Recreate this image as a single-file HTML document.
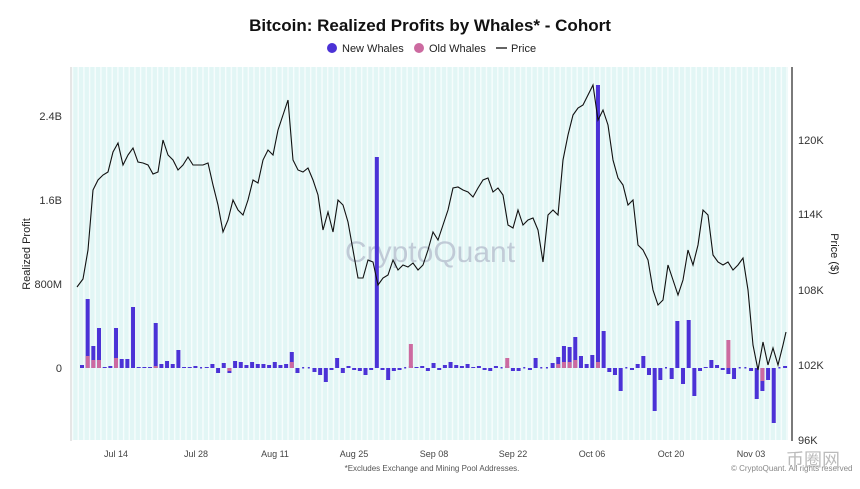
<!DOCTYPE html>
<html><head><meta charset="utf-8"><style>
body{margin:0;background:#fff;width:860px;height:484px;overflow:hidden;font-family:"Liberation Sans",sans-serif}
</style></head><body>
<svg id="s" width="860" height="484" xmlns="http://www.w3.org/2000/svg" font-family="Liberation Sans, sans-serif">
<defs>
<pattern id="st" x="79" y="0" width="5.67" height="10" patternUnits="userSpaceOnUse">
<rect width="5.67" height="10" fill="#e2f6f5"/><rect x="4.2" width="1.4" height="10" fill="#f7fdfd"/>
</pattern>
</defs>
<text x="430" y="31" text-anchor="middle" font-size="17" font-weight="bold" fill="#111">Bitcoin: Realized Profits by Whales* - Cohort</text>
<circle cx="332" cy="48" r="5" fill="#4b32d6"/><text x="342" y="52" font-size="11" fill="#222">New Whales</text>
<circle cx="419" cy="48" r="5" fill="#cc6aa0"/><text x="429" y="52" font-size="11" fill="#222">Old Whales</text>
<line x1="496" y1="48" x2="507" y2="48" stroke="#111" stroke-width="1.3"/><text x="511" y="52" font-size="11" fill="#222">Price</text>
<rect x="72" y="67" width="716" height="373" fill="url(#st)"/>
<line x1="71" y1="67" x2="71" y2="441" stroke="#ccc"/>
<line x1="792" y1="67" x2="792" y2="441" stroke="#222" stroke-width="1.2"/>
<text x="430" y="262" text-anchor="middle" font-size="30" fill="#b4bccc" opacity="0.75">CryptoQuant</text>
<g font-size="11" fill="#333" text-anchor="end">
<text x="62" y="120">2.4B</text><text x="62" y="204">1.6B</text><text x="62" y="288">800M</text><text x="62" y="372">0</text>
</g>
<g font-size="11" fill="#333">
<text x="798" y="144">120K</text><text x="798" y="218">114K</text><text x="798" y="294">108K</text><text x="798" y="369">102K</text><text x="798" y="444">96K</text>
</g>
<text transform="translate(30,254) rotate(-90)" text-anchor="middle" font-size="11" fill="#222">Realized Profit</text>
<text transform="translate(831,254) rotate(90)" text-anchor="middle" font-size="11" fill="#222">Price ($)</text>
<g font-size="9" fill="#444" text-anchor="middle">
<text x="116" y="457">Jul 14</text><text x="196" y="457">Jul 28</text><text x="275" y="457">Aug 11</text><text x="354" y="457">Aug 25</text><text x="434" y="457">Sep 08</text><text x="513" y="457">Sep 22</text><text x="592" y="457">Oct 06</text><text x="671" y="457">Oct 20</text><text x="751" y="457">Nov 03</text>
</g>
<text x="432" y="471" text-anchor="middle" font-size="8" fill="#555">*Excludes Exchange and Mining Pool Addresses.</text>
<text x="731" y="471" font-size="8" fill="#888">© CryptoQuant. All rights reserved</text>
<text x="786" y="466" font-size="18" fill="#bbb">币圈网</text>
<g id="bars"></g>
<polyline id="pl" fill="none" stroke="#111" stroke-width="1.1"/>
</svg>
<script>
var nw=[3,69,22,40,1,2,40,9,9,61,1,1,1,45,4,7,4,18,1,1,2,0,1,4,-5,5,-5,7,6,3,6,4,4,3,6,3,4,16,-5,0,0,-4,-7,-14,-2,10,-5,2,-2,-3,-7,-2,211,-2,-12,-3,-2,0,2,1,2,-3,5,-2,3,6,3,2,4,1,2,-2,-3,2,0,2,-3,-3,0,-2,10,0,0,5,11,22,21,31,12,4,13,283,37,-4,-7,-23,0,-2,4,12,-7,-43,-12,0,-11,47,-16,48,-28,-3,1,8,3,-2,-6,-11,0,0,-3,-31,-23,-12,-55,0,2];
var od={1:12,2:8,3:8,6:10,13:2,37:6,58:24,75:10,84:4,85:6,86:6,87:8,91:6,114:28,120:-13,26:-3};
var g=document.getElementById('bars'),h='';
for(var i=0;i<nw.length;i++){var x=82+i*5.67-2,v=nw[i],o=od[i]||0;
if(v>0)h+='<rect x="'+x+'" y="'+(368-v)+'" width="4" height="'+v+'" fill="#4b32d6"/>';
else if(v<0)h+='<rect x="'+x+'" y="368" width="4" height="'+(-v)+'" fill="#4b32d6"/>';
else h+='<rect x="'+(x+1)+'" y="367" width="2" height="1.5" fill="#4b32d6"/>';
if(o>0)h+='<rect x="'+x+'" y="'+(368-o)+'" width="4" height="'+o+'" fill="#cc6aa0"/>';
if(o<0)h+='<rect x="'+x+'" y="368" width="4" height="'+(-o)+'" fill="#cc6aa0"/>';}
g.innerHTML=h;
var p=[77,287,83,279,88,250,93,190,98,180,103,175,108,172,113,152,118,143,123,165,128,155,133,148,138,162,143,163,148,165,153,174,158,172,163,140,168,155,173,160,178,170,183,165,188,157,193,165,198,165,203,165,208,163,213,185,218,205,223,232,228,220,233,200,238,210,243,215,248,200,253,180,258,183,263,160,268,150,273,155,278,130,283,115,288,100,293,160,298,170,303,172,308,168,313,180,318,195,323,230,328,212,333,232,338,200,343,205,348,222,353,250,358,278,363,278,368,260,373,262,378,285,383,278,388,275,393,260,398,270,403,265,408,267,413,263,418,270,423,265,428,250,433,232,438,240,443,225,448,210,453,188,458,187,463,190,468,192,473,197,478,188,483,180,488,178,493,192,498,188,503,195,508,225,513,228,518,210,523,225,528,220,533,218,538,230,543,262,548,215,553,210,558,215,563,160,568,135,573,115,578,108,583,105,588,95,593,85,598,120,603,110,608,125,613,160,618,178,623,185,628,205,633,200,638,245,643,250,648,260,653,290,658,305,663,300,668,265,673,280,678,295,683,280,688,250,693,265,698,245,703,210,708,215,713,255,718,262,723,265,728,262,733,270,738,265,743,258,748,290,753,345,758,370,763,342,768,365,773,348,778,365,783,345,786,332];
var s='';for(var j=0;j<p.length;j+=2)s+=p[j]+','+p[j+1]+' ';
document.getElementById('pl').setAttribute('points',s);
</script>
</body></html>
